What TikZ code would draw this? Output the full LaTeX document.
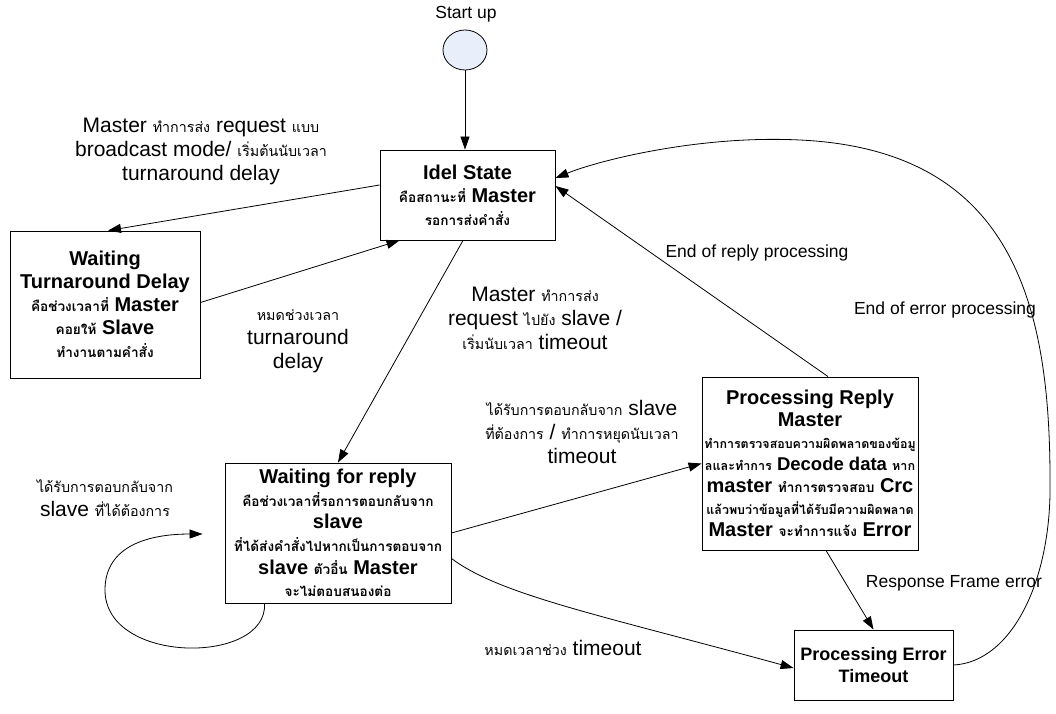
\documentclass[tikz,border=0pt]{standalone}
\usepackage{fontspec}
\setmainfont{Liberation Sans}
\newfontfamily\thaifont[Script=Thai,Scale=0.68]{Loma}
\usetikzlibrary{arrows.meta,calc,shapes.geometric}
\newcommand\thx[1]{{\thaifont #1}}
\newcommand\thxs[1]{{\fontsize{18.3}{22}\thaifont #1}}
\definecolor{startfill}{RGB}{232,238,250}
\begin{document}
\begin{tikzpicture}[x=1pt,y=-1pt,
  state/.style={draw,line width=0.9pt,align=center,inner sep=0pt,
    font=\bfseries\fontsize{20}{23}\selectfont},
  lab/.style={align=center,inner sep=0pt,font=\fontsize{21}{24}\selectfont},
  elab/.style={align=center,inner sep=0pt,font=\fontsize{17.5}{20}\selectfont},
  arr/.style={line width=0.8pt,-{Triangle[length=13pt,width=9pt]}}]
\useasboundingbox (0,0) rectangle (1056,713);

% states
\node[draw,ellipse,fill=startfill,line width=0.8pt,minimum width=44pt,minimum height=40pt,inner sep=0pt] (start) at (465,50) {};
\node[elab] (startlab) at (466,14) {Start up};

\node[state,minimum width=175pt,minimum height=90pt] (idle) at (467.5,195)
  {Idel State\\ \thx{คือสถานะที่} Master\\ \thx{รอการส่งคำสั่ง}};

\node[state,minimum width=190pt,minimum height=147pt] (wtd) at (105,304.5)
  {Waiting\\ Turnaround Delay\\ \thx{คือช่วงเวลาที่} Master\\ \thx{คอยให้} Slave\\ \thx{ทำงานตามคำสั่ง}};

\node[state,minimum width=226pt,minimum height=140pt,font=\bfseries\fontsize{20}{22.6}\selectfont] (wfr) at (338,533)
  {Waiting for reply\\ \thx{คือช่วงเวลาที่รอการตอบกลับจาก}\\ slave\\ \thx{ที่ได้ส่งคำสั่งไปหากเป็นการตอบจาก}\\ slave \thx{ตัวอื่น} Master\\ \thx{จะไม่ตอบสนองต่อ}};

\node[state,minimum width=216pt,minimum height=173pt,font=\bfseries\fontsize{20}{22}\selectfont] (prr) at (810,463.5)
  {Processing Reply\\ Master\\ \thxs{ทำการตรวจสอบความผิดพลาดของข้อมู}\\ {\fontsize{18.5}{22}\selectfont\thx{ลและทำการ} Decode data \thx{หาก}}\\ master \thx{ทำการตรวจสอบ} Crc\\ \thxs{แล้วพบว่าข้อมูลที่ได้รับมีความผิดพลาด}\\ Master \thx{จะทำการแจ้ง} Error};

\node[state,minimum width=159pt,minimum height=70pt,font=\bfseries\fontsize{18}{22}\selectfont] (pet) at (873.5,665)
  {Processing Error\\ Timeout};

% transitions
\draw[arr] (start) -- (start |- idle.north);
\draw[arr] ($(idle.west)+(0,-10)$) -- ($(wtd.north)+(3,0)$);
\draw[arr] ($(wtd.east)+(0,-2)$) -- ($(idle.south west)+(20,0)$);
\draw[arr] ($(idle.south)+(-4.5,0)$) -- (wfr.north);
\draw[arr] (wfr.east) -- (prr.west);
\draw[arr] ($(prr.north)+(18,0)$) -- ($(idle.east)+(0,-9)$);
\draw[arr] ($(prr.south)+(16,0)$) -- (pet.north);
\draw[arr] ($(wfr.south east)+(0,-45)$) .. controls (500,595) and (600,615) .. ($(pet.west)+(0,3)$);
\draw[arr] ($(wfr.south west)+(40,0)$) .. controls (268,665) and (105,665) .. (105,590)
  .. controls (105,545) and (150,534) .. ($(wfr.west)+(-22,1)$);
\draw[arr] (pet.east) .. controls (1012,662) and (1052,580) .. (1050,480)
  .. controls (1050,300) and (1010,150) .. (800,140)
  .. controls (700,135) and (600,160) .. ($(idle.east)+(0,-17)$);

% transition labels
\node[lab] (l1) at (201,151) {Master \thx{ทำการส่ง} request \thx{แบบ}\\ broadcast mode/ \thx{เริ่มต้นนับเวลา}\\ turnaround delay};
\node[lab] (l2) at (298,341) {\thx{หมดช่วงเวลา}\\ turnaround\\ delay};
\node[lab] (l3) at (535,318) {Master \thx{ทำการส่ง}\\ request \thx{ไปยัง} slave /\\ \thx{เริ่มนับเวลา} timeout};
\node[lab] (l4) at (582,432) {\thx{ได้รับการตอบกลับจาก} slave\\ \thx{ที่ต้องการ} / \thx{ทำการหยุดนับเวลา}\\ timeout};
\node[lab] (l5) at (105,498) {\thx{ได้รับการตอบกลับจาก}\\ slave \thx{ที่ได้ต้องการ}};
\node[lab] (l6) at (563,648) {\thx{หมดเวลาช่วง} timeout};
\node[elab] (l7) at (757,253) {End of reply processing};
\node[elab] (l8) at (945,310) {End of error processing};
\node[elab] (l9) at (954,583) {Response Frame error};
\end{tikzpicture}
\end{document}
